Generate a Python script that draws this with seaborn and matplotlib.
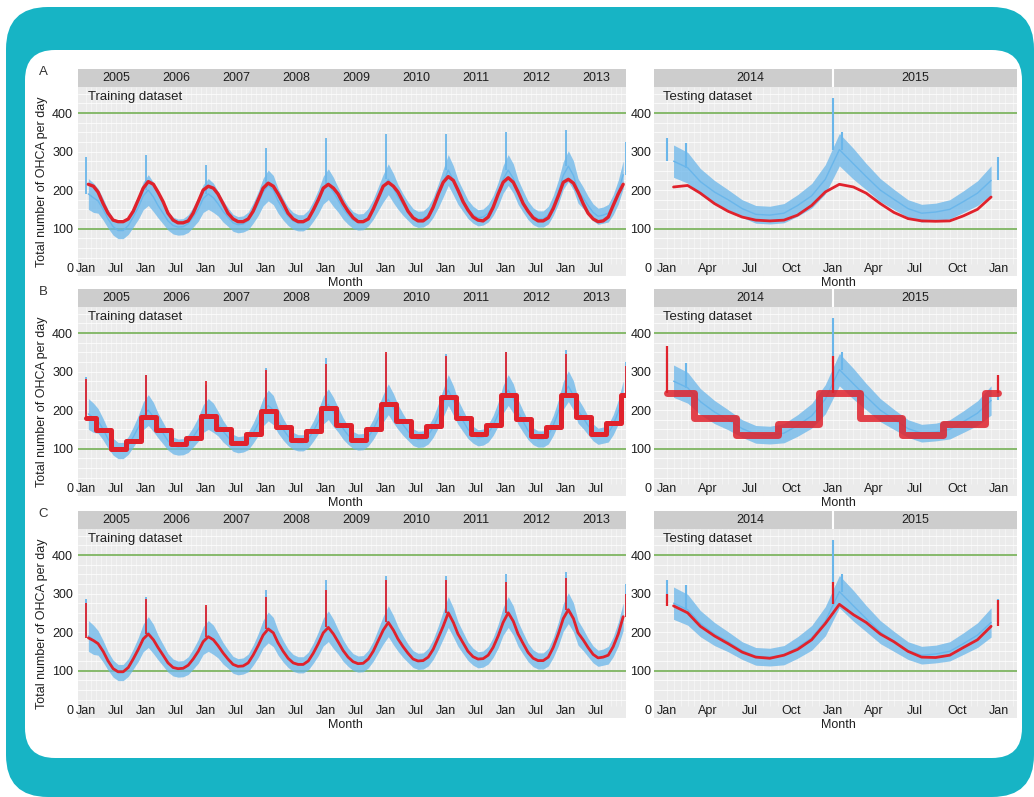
import numpy as np
import pandas as pd
import matplotlib
matplotlib.use("Agg")
import matplotlib.pyplot as plt
from matplotlib.ticker import NullFormatter
import seaborn as sns
from matplotlib.patches import FancyBboxPatch
from matplotlib.transforms import IdentityTransform

# ---------------- data ----------------
train_years = [2005, 2006, 2007, 2008, 2009, 2010, 2011, 2012, 2013]
test_years = [2014, 2015]

# observed daily OHCA, monthly level (training 2005-2013)
blue_train = [
    190, 180, 172, 150, 125, 105, 95, 95, 108, 130, 155, 185,
    200, 182, 160, 140, 120, 108, 104, 105, 113, 130, 150, 178,
    190, 180, 165, 145, 130, 115, 110, 112, 120, 140, 165, 195,
    212, 200, 172, 150, 132, 120, 115, 115, 125, 145, 170, 200,
    215, 195, 175, 152, 135, 122, 117, 118, 130, 150, 178, 205,
    228, 205, 182, 162, 145, 130, 124, 125, 135, 155, 185, 218,
    252, 225, 195, 172, 150, 136, 128, 130, 140, 160, 190, 228,
    252, 230, 195, 170, 147, 132, 125, 125, 135, 160, 195, 238,
    262, 238, 198, 180, 160, 142, 132, 135, 140, 162, 195, 240,
]
# half-width of the daily scatter, by calendar month
blue_spread_train = [40, 38, 32, 28, 24, 22, 21, 21, 23, 26, 31, 36]

# observed, testing 2014-2015
blue_test = [
    275, 258, 222, 195, 175, 152, 137, 135, 140, 160, 185, 228,
    305, 268, 235, 200, 176, 152, 140, 143, 150, 170, 192, 225,
]
blue_spread_test = [42, 40, 34, 30, 26, 23, 23, 23, 25, 28, 32, 38]

# New-year peaks of the observed series
blue_spike_train_dates = ["2005-01-01", "2006-01-01", "2007-01-01", "2008-01-01",
                          "2009-01-01", "2010-01-01", "2011-01-01", "2012-01-01",
                          "2013-01-01", "2013-12-31"]
blue_spike_train_vals = [285, 290, 265, 310, 335, 345, 345, 352, 355, 325]
blue_spike_test_dates = ["2014-01-01", "2014-02-12", "2015-01-02", "2015-01-20", "2015-12-31"]
blue_spike_test_vals = [335, 322, 440, 350, 285]

# Model A (seasonal smooth) predictions, monthly
red_a_train = [
    215, 210, 195, 165, 140, 122, 118, 118, 125, 145, 175, 205,
    222, 215, 195, 170, 140, 122, 115, 115, 120, 140, 170, 200,
    210, 205, 190, 165, 140, 125, 118, 118, 125, 145, 175, 205,
    218, 210, 190, 165, 140, 125, 118, 118, 125, 148, 175, 205,
    215, 205, 190, 165, 145, 128, 118, 118, 125, 150, 180, 210,
    220, 210, 195, 170, 145, 128, 120, 120, 130, 155, 190, 220,
    235, 225, 200, 170, 148, 130, 122, 120, 130, 155, 190, 220,
    232, 220, 195, 165, 145, 128, 120, 120, 128, 152, 185, 220,
    228, 218, 195, 165, 140, 125, 118, 120, 130, 160, 190, 215,
]
red_a_test = [
    208, 212, 192, 165, 145, 130, 122, 120, 122, 135, 160, 195,
    215, 208, 192, 165, 142, 126, 120, 119, 120, 133, 150, 182,
]

# Model B (seasonal step) predictions: JF2005, then MAM, JJA, SON, DJF ...
red_b_train = [180,
               148, 100, 120, 182,
               148, 112, 127, 185,
               152, 115, 138, 198,
               157, 122, 145, 205,
               160, 123, 150, 215,
               172, 133, 158, 235,
               180, 137, 160, 240,
               176, 132, 157, 238,
               182, 137, 166, 240]
red_b_test = [245,
              180, 135, 165, 245,
              180, 135, 165, 245]
red_b_spike_train_vals = [280, 290, 275, 305, 320, 350, 340, 350, 345, 315]
red_b_spike_test_dates = ["2014-01-01", "2015-01-02", "2015-12-31"]
red_b_spike_test_vals = [365, 340, 290]

# Model C (tracking) predictions, monthly
red_c_train = [
    185, 178, 170, 150, 125, 105, 97, 97, 108, 130, 155, 182,
    195, 180, 160, 140, 120, 108, 105, 106, 114, 130, 150, 175,
    188, 180, 165, 146, 130, 116, 111, 112, 120, 140, 165, 192,
    208, 198, 172, 150, 132, 120, 116, 116, 125, 145, 170, 198,
    212, 195, 175, 152, 135, 123, 118, 119, 130, 150, 178, 205,
    225, 205, 182, 162, 145, 130, 125, 126, 135, 155, 185, 215,
    250, 225, 195, 172, 150, 136, 130, 131, 140, 160, 190, 225,
    250, 228, 195, 170, 147, 132, 126, 126, 135, 160, 195, 235,
    258, 235, 198, 180, 160, 142, 133, 135, 140, 162, 195, 240,
]
red_c_test = [
    268, 250, 215, 190, 170, 148, 135, 132, 140, 155, 180, 222,
    272, 245, 225, 195, 175, 150, 135, 134, 140, 160, 180, 215,
]
red_c_spike_train_vals = [275, 285, 270, 290, 310, 335, 335, 330, 340, 300]
red_c_spike_test_dates = ["2014-01-01", "2015-01-02", "2015-12-31"]
red_c_spike_test_vals = [300, 330, 282]

train_ticks = ["Jan", "Jul"]
test_ticks = ["Jan", "Apr", "Jul", "Oct"]
panel_letters = ["A", "B", "C"]
ylab = "Total number of OHCA per day"

# ---------------- styling ----------------
TEAL = "#17b4c5"
PANEL = "#ebebeb"
STRIP = "#cdcdcd"
GREEN = "#86b96b"
BLUE = "#6ab6ea"
RED = "#e0222c"
TXT = "#1e1e1e"

sns.set_theme(style="white")
plt.rcParams["font.family"] = ["Liberation Sans", "DejaVu Sans"]

W, H = 1034, 797
fig = plt.figure(figsize=(W / 100, H / 100), dpi=100)
fig.patch.set_facecolor("white")

outer = FancyBboxPatch((6, 0), 1028, 790, boxstyle="round,pad=0,rounding_size=42",
                       transform=IdentityTransform(), facecolor=TEAL, edgecolor="none", zorder=-20)
inner = FancyBboxPatch((25, H - 758), 997, 708, boxstyle="round,pad=0,rounding_size=30",
                       transform=IdentityTransform(), facecolor="white", edgecolor="none", zorder=-19)
fig.patches.extend([outer, inner])


def box(x0, y0, x1, y1):
    return [x0 / W, 1 - y1 / H, (x1 - x0) / W, (y1 - y0) / H]


# dates
t_month = pd.date_range("2005-01-01", periods=108, freq="MS") + pd.Timedelta(days=14)
s_month = pd.date_range("2014-01-01", periods=24, freq="MS") + pd.Timedelta(days=14)
t_lo = np.array(blue_train) - np.tile(blue_spread_train, 9)
t_hi = np.array(blue_train) + np.tile(blue_spread_train, 9)
s_lo = np.array(blue_test) - np.tile(blue_spread_test, 2)
s_hi = np.array(blue_test) + np.tile(blue_spread_test, 2)


def season_starts(first_year, n_years):
    d = [pd.Timestamp(f"{first_year}-01-01")]
    for y in range(first_year, first_year + n_years):
        for m in (3, 6, 9, 12):
            d.append(pd.Timestamp(f"{y}-{m:02d}-01"))
    return d


t_season = season_starts(2005, 9)
s_season = season_starts(2014, 2)

train_xlim = (pd.Timestamp("2004-11-13"), pd.Timestamp("2014-01-01"))
test_xlim = (pd.Timestamp("2013-12-03"), pd.Timestamp("2016-02-10"))


def level_at(dates, values, when):
    idx = np.argmin(np.abs((pd.DatetimeIndex(dates) - when).days))
    return values[idx]


def setup_panel(ax, xlim, ticks, minor, tick_labels, ylab_pad):
    ax.set_facecolor(PANEL)
    ax.set_xlim(*xlim)
    ax.set_ylim(-23, 467.5)
    ax.set_yticks([0, 100, 200, 300, 400])
    ax.set_xticks(ticks)
    ax.set_xticklabels(tick_labels)
    ax.grid(False)
    ax.set_axisbelow("line")
    # light background grid (kept above the tick-label strip)
    for yv in np.arange(25, 467, 25):
        ax.axhline(yv, color="white", lw=0.6, alpha=0.85, zorder=0.3)
    ax.vlines(minor, 8, 467.5, color="white", lw=0.5, alpha=0.6, zorder=0.3)
    for s in ax.spines.values():
        s.set_visible(False)
    ax.tick_params(axis="x", which="both", length=0, pad=-9.5, labelsize=9, colors=TXT)
    ax.tick_params(axis="y", which="both", length=0, pad=ylab_pad, labelsize=9, colors=TXT)
    ax.axhline(100, color=GREEN, lw=1.4, zorder=1)
    ax.axhline(400, color=GREEN, lw=1.4, zorder=1)
    ax.set_xlim(*xlim)


def strip_axes(rect, xlim, years, gaps):
    sa = fig.add_axes(rect)
    sa.set_xlim(*xlim)
    sa.set_ylim(0, 1)
    sa.set_facecolor(STRIP)
    for s in sa.spines.values():
        s.set_visible(False)
    sa.set_xticks([])
    sa.set_yticks([])
    for g in gaps:
        sa.axvline(pd.Timestamp(g), color="white", lw=1.5)
    for y in years:
        sa.text(pd.Timestamp(f"{y}-07-02"), 0.5, str(y), ha="center", va="center",
                fontsize=9, color=TXT)
    return sa


rows = [(69, 87, 276), (289, 307, 496), (511, 529, 718)]
LX0, LX1 = 78, 626
RX0, RX1 = 654, 1017

train_tick_dates = [pd.Timestamp(f"{y}-{m:02d}-01") for y in train_years for m in (1, 7)]
train_tick_lab = [train_ticks[i % 2] for i in range(len(train_tick_dates))]
test_tick_dates = [pd.Timestamp(f"{y}-{m:02d}-01") for y in test_years for m in (1, 4, 7, 10)] + [pd.Timestamp("2016-01-01")]
test_tick_lab = [test_ticks[i % 4] for i in range(len(test_tick_dates) - 1)] + ["Jan"]
train_minor = pd.date_range("2005-01-01", "2014-01-01", freq="MS")
test_minor = pd.date_range("2014-01-01", "2016-02-01", freq="SMS")

bt_dates = pd.to_datetime(blue_spike_train_dates)
bs_dates = pd.to_datetime(blue_spike_test_dates)

for r, (ys, yt, yb) in enumerate(rows):
    # ---------- training panel ----------
    ax = fig.add_axes(box(LX0, yt, LX1, yb))
    strip_axes(box(LX0, ys, LX1, yt), train_xlim, train_years, [])

    ax.fill_between(t_month, t_lo, t_hi, color=BLUE, lw=0, alpha=0.75, zorder=2)
    sns.lineplot(x=t_month, y=blue_train, ax=ax, color=BLUE, lw=1.0, zorder=2)
    base = [level_at(t_month, blue_train, d) for d in bt_dates]
    ax.vlines(bt_dates, base, blue_spike_train_vals, color=BLUE, lw=1.3, zorder=2)

    if r == 0:
        sns.lineplot(x=t_month, y=red_a_train, ax=ax, color=RED, lw=2.4, zorder=3)
    elif r == 1:
        xs = t_season + [pd.Timestamp("2013-12-31")]
        vs = red_b_train + [red_b_train[-1]]
        ax.plot(xs, vs, drawstyle="steps-post", color=RED, lw=3.6, zorder=3)
        base = [level_at(t_season, red_b_train, d) for d in bt_dates]
        ax.vlines(bt_dates, base, red_b_spike_train_vals, color=RED, lw=1.3, zorder=3)
    else:
        sns.lineplot(x=t_month, y=red_c_train, ax=ax, color=RED, lw=2.0, zorder=3)
        base = [level_at(t_month, red_c_train, d) for d in bt_dates]
        ax.vlines(bt_dates, base, red_c_spike_train_vals, color=RED, lw=1.3, zorder=3)

    setup_panel(ax, train_xlim, train_tick_dates, train_minor, train_tick_lab, 3.5)
    ax.set_xlabel("")
    ax.set_ylabel("")
    ax.text(0.018, 0.947, "Training dataset", transform=ax.transAxes, ha="left", va="center",
            fontsize=9.5, color=TXT)

    # ---------- testing panel ----------
    ax2 = fig.add_axes(box(RX0, yt, RX1, yb))
    strip_axes(box(RX0, ys, RX1, yt), test_xlim, test_years, ["2015-01-01"])

    ax2.fill_between(s_month, s_lo, s_hi, color=BLUE, lw=0, alpha=0.75, zorder=2)
    sns.lineplot(x=s_month, y=blue_test, ax=ax2, color=BLUE, lw=1.0, zorder=2)
    base = [level_at(s_month, blue_test, d) for d in bs_dates]
    ax2.vlines(bs_dates, base, blue_spike_test_vals, color=BLUE, lw=1.5, zorder=2)

    if r == 0:
        sns.lineplot(x=s_month, y=red_a_test, ax=ax2, color=RED, lw=2.0, zorder=3)
    elif r == 1:
        xs = s_season + [pd.Timestamp("2015-12-31")]
        vs = red_b_test + [red_b_test[-1]]
        ax2.plot(xs, vs, drawstyle="steps-post", color=RED, lw=5, alpha=0.85, zorder=3)
        d = pd.to_datetime(red_b_spike_test_dates)
        base = [level_at(s_season, red_b_test, x) for x in d]
        ax2.vlines(d, base, red_b_spike_test_vals, color=RED, lw=1.6, zorder=3)
    else:
        sns.lineplot(x=s_month, y=red_c_test, ax=ax2, color=RED, lw=2.0, zorder=3)
        d = pd.to_datetime(red_c_spike_test_dates)
        base = [level_at(s_month, red_c_test, x) for x in d]
        ax2.vlines(d, base, red_c_spike_test_vals, color=RED, lw=1.6, zorder=3)

    setup_panel(ax2, test_xlim, test_tick_dates, test_minor, test_tick_lab, 2)
    ax2.set_xlabel("")
    ax2.set_ylabel("")
    ax2.text(0.025, 0.947, "Testing dataset", transform=ax2.transAxes, ha="left", va="center",
             fontsize=9.5, color=TXT)

    # labels
    fig.text(345 / W, 1 - (yb + 7) / H, "Month", ha="center", va="center", fontsize=9, color=TXT)
    fig.text(838 / W, 1 - (yb + 7) / H, "Month", ha="center", va="center", fontsize=9, color=TXT)
    fig.text(42 / W, 1 - ((yt + yb) / 2) / H, ylab, rotation=90, ha="center", va="center",
             fontsize=9, color=TXT)
    fig.text(43 / W, 1 - (ys + 3) / H, panel_letters[r], ha="center", va="center",
             fontsize=9.5, color="#333333")

fig.savefig("out.png", dpi=100, facecolor=fig.get_facecolor())
